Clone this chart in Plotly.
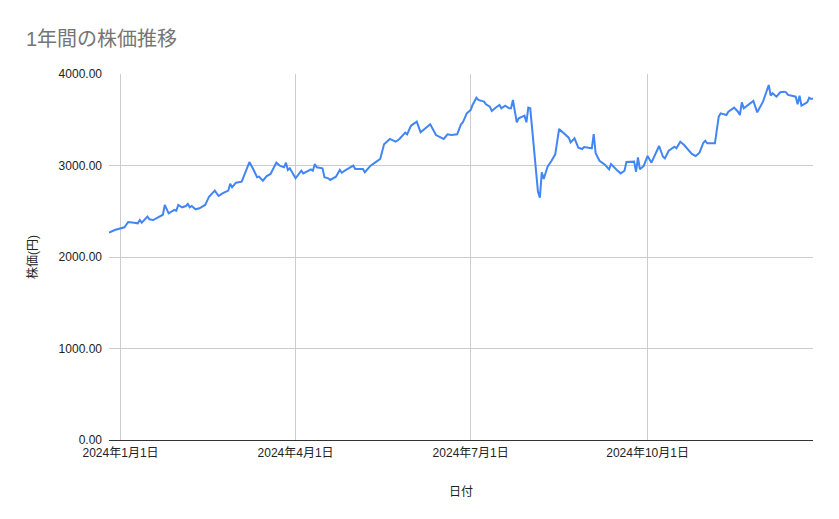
import plotly.graph_objects as go

# 1年間の株価推移
dates = [
    "2023-12-26", "2023-12-29", "2024-01-03", "2024-01-05", "2024-01-08", "2024-01-10",
    "2024-01-11", "2024-01-12", "2024-01-15", "2024-01-16", "2024-01-18", "2024-01-22",
    "2024-01-23", "2024-01-24", "2024-01-26", "2024-01-29", "2024-01-30", "2024-01-31",
    "2024-02-02", "2024-02-04", "2024-02-05", "2024-02-06", "2024-02-07", "2024-02-09",
    "2024-02-11", "2024-02-14", "2024-02-16", "2024-02-18", "2024-02-19", "2024-02-21",
    "2024-02-23", "2024-02-26", "2024-02-27", "2024-02-28", "2024-03-01", "2024-03-04",
    "2024-03-08", "2024-03-10", "2024-03-12", "2024-03-13", "2024-03-15", "2024-03-17",
    "2024-03-19", "2024-03-22", "2024-03-24", "2024-03-26", "2024-03-27", "2024-03-28",
    "2024-03-29", "2024-04-01", "2024-04-04", "2024-04-05", "2024-04-09", "2024-04-10",
    "2024-04-11", "2024-04-12", "2024-04-15", "2024-04-16", "2024-04-18", "2024-04-19",
    "2024-04-22", "2024-04-24", "2024-04-25", "2024-04-27", "2024-05-01", "2024-05-02",
    "2024-05-06", "2024-05-07", "2024-05-10", "2024-05-13", "2024-05-15", "2024-05-17",
    "2024-05-20", "2024-05-23", "2024-05-25", "2024-05-28", "2024-05-29", "2024-05-31",
    "2024-06-03", "2024-06-05", "2024-06-07", "2024-06-10", "2024-06-13", "2024-06-17",
    "2024-06-19", "2024-06-21", "2024-06-24", "2024-06-26", "2024-06-27", "2024-06-29",
    "2024-07-01", "2024-07-02", "2024-07-04", "2024-07-05", "2024-07-08", "2024-07-09",
    "2024-07-11", "2024-07-12", "2024-07-14", "2024-07-16", "2024-07-17", "2024-07-19",
    "2024-07-21", "2024-07-22", "2024-07-23", "2024-07-25", "2024-07-26", "2024-07-28",
    "2024-07-29", "2024-07-30", "2024-07-31", "2024-08-01", "2024-08-03", "2024-08-05",
    "2024-08-06", "2024-08-07", "2024-08-08", "2024-08-10", "2024-08-12", "2024-08-14",
    "2024-08-16", "2024-08-19", "2024-08-21", "2024-08-22", "2024-08-24", "2024-08-26",
    "2024-08-28", "2024-08-29", "2024-09-01", "2024-09-02", "2024-09-03", "2024-09-04",
    "2024-09-06", "2024-09-09", "2024-09-11", "2024-09-12", "2024-09-15", "2024-09-17",
    "2024-09-19", "2024-09-20", "2024-09-24", "2024-09-25", "2024-09-26", "2024-09-27",
    "2024-09-29", "2024-10-01", "2024-10-03", "2024-10-07", "2024-10-09", "2024-10-10",
    "2024-10-12", "2024-10-15", "2024-10-16", "2024-10-18", "2024-10-20", "2024-10-24",
    "2024-10-26", "2024-10-28", "2024-10-30", "2024-10-31", "2024-11-01", "2024-11-05",
    "2024-11-07", "2024-11-08", "2024-11-11", "2024-11-12", "2024-11-15", "2024-11-17",
    "2024-11-18", "2024-11-19", "2024-11-20", "2024-11-22", "2024-11-25", "2024-11-27",
    "2024-11-30", "2024-12-03", "2024-12-04", "2024-12-05", "2024-12-07", "2024-12-09",
    "2024-12-11", "2024-12-12", "2024-12-13", "2024-12-15", "2024-12-17", "2024-12-18",
    "2024-12-19", "2024-12-20", "2024-12-23", "2024-12-24", "2024-12-25", "2024-12-26",
]

prices = [
    2266, 2295, 2325, 2383, 2375, 2368,
    2404, 2375, 2441, 2412, 2404, 2448,
    2462, 2569, 2477, 2514, 2506, 2569,
    2543, 2557, 2579, 2543, 2557, 2521,
    2532, 2569, 2659, 2703, 2725, 2667,
    2696, 2725, 2800, 2762, 2812, 2823,
    3038, 2959, 2871, 2878, 2834, 2885,
    2907, 3031, 2995, 2980, 3031, 2951,
    2969, 2860, 2943, 2914, 2958, 2943,
    3016, 2980, 2969, 2871, 2860, 2842,
    2878, 2951, 2921, 2950, 2998, 2962,
    2962, 2926, 2998, 3042, 3071, 3232,
    3290, 3260, 3290, 3359, 3341, 3435,
    3479, 3363, 3399, 3450, 3333, 3290,
    3341, 3333, 3341, 3450, 3472, 3570,
    3606, 3661, 3741, 3716, 3698, 3669,
    3643, 3596, 3632, 3661, 3625, 3654,
    3625, 3625, 3716, 3472, 3516, 3534,
    3545, 3472, 3632, 3625, 3206, 2714,
    2648, 2926, 2853, 2987, 3049, 3122,
    3399, 3341, 3304, 3253, 3297, 3195,
    3180, 3202, 3195, 3188, 3344, 3133,
    3052, 3005, 2958, 3016, 2951, 2914,
    2943, 3038, 3042, 2932, 3089, 2958,
    2995, 3104, 3031, 3213, 3096, 3078,
    3162, 3206, 3188, 3260, 3224, 3126,
    3104, 3140, 3249, 3271, 3243, 3243,
    3534, 3570, 3552, 3588, 3632, 3588,
    3552, 3690, 3625, 3661, 3705, 3581,
    3698, 3880, 3763, 3789, 3752, 3800,
    3807, 3800, 3771, 3763, 3752, 3669,
    3763, 3654, 3690, 3741, 3727, 3734,
]

x_ticks = ["2024-01-01", "2024-04-01", "2024-07-01", "2024-10-01"]
x_tick_labels = ["2024年1月1日", "2024年4月1日", "2024年7月1日", "2024年10月1日"]
y_ticks = [0, 1000, 2000, 3000, 4000]

FONT = "Liberation Sans, Arial, Noto Sans CJK JP, sans-serif"

fig = go.Figure()
fig.add_trace(go.Scatter(
    x=dates,
    y=prices,
    mode="lines",
    line=dict(color="#4285F4", width=2),
    showlegend=False,
))

# the page adds ~8px body margin, so margins are shifted to compensate
fig.update_layout(
    width=839,
    height=519,
    margin=dict(l=101, r=34, t=66, b=87),
    paper_bgcolor="white",
    plot_bgcolor="white",
    font=dict(family=FONT, size=12, color="#222222"),
    title=dict(
        text="1年間の株価推移",
        x=18 / 839,
        xanchor="left",
        y=1 - 31 / 519,
        yanchor="middle",
        font=dict(family=FONT, size=20, color="#757575"),
    ),
)

fig.update_xaxes(
    range=["2023-12-26", "2024-12-26"],
    tickvals=x_ticks,
    ticktext=x_tick_labels,
    showgrid=True,
    gridcolor="#cccccc",
    gridwidth=1,
    showline=True,
    linecolor="#333333",
    linewidth=1,
    ticks="",
    ticklabelstandoff=2,
    tickfont=dict(size=12, color="#222222"),
    title=dict(text="日付", standoff=28, font=dict(size=12, color="#222222")),
)

fig.update_yaxes(
    range=[0, 4000],
    tickvals=y_ticks,
    tickformat=".2f",
    showgrid=True,
    gridcolor="#cccccc",
    gridwidth=1,
    zeroline=False,
    showline=False,
    ticks="",
    ticklabelstandoff=6,
    tickfont=dict(size=12, color="#222222"),
    title=dict(text="株価(円)", standoff=18, font=dict(size=12, color="#222222")),
)

fig.write_html("out.html")
